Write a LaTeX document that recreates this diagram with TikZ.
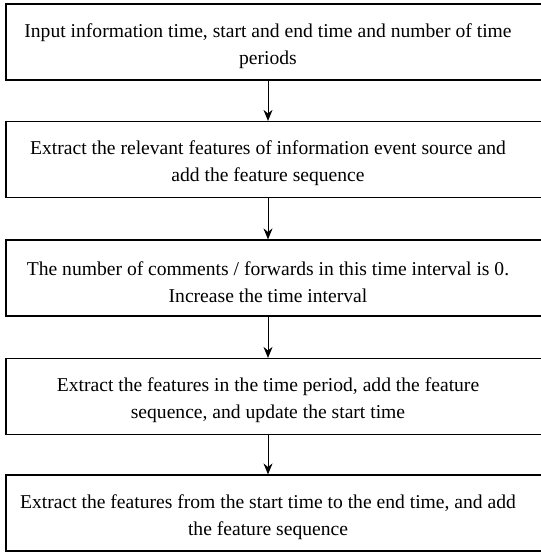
\documentclass[tikz,border=0pt]{standalone}
\usepackage{fontspec}
\setmainfont{Liberation Serif}
\usetikzlibrary{arrows.meta}

\tikzset{
  stepframe/.style={draw,line width=1.2pt,minimum width=539pt,minimum height=76pt,inner sep=0pt},
  steptext/.style={align=center,inner sep=0pt,font=\fontsize{19.6}{27}\selectfont},
  flow/.style={-{Stealth[length=11pt,width=9pt]},line width=1pt}
}

\begin{document}
\begin{tikzpicture}[x=1pt,y=-1pt]
\useasboundingbox (0,0) rectangle (541,552);
% frames
\node[stepframe] (b1) at (275.5,42) {};
\node[stepframe] (b2) at (275.5,159.5) {};
\node[stepframe] (b3) at (275.5,278) {};
\node[stepframe] (b4) at (275.5,396.5) {};
\node[stepframe] (b5) at (275.5,513) {};
% texts
\node[steptext] (t1) at (268,46) {Input information time, start and end time and number of time\\periods};
\node[steptext] (t2) at (268,163.5) {Extract the relevant features of information event source and\\add the feature sequence};
\node[steptext] (t3) at (268,282) {The number of comments / forwards in this time interval is 0.\\Increase the time interval};
\node[steptext] (t4) at (268,400.5) {Extract the features in the time period, add the feature\\sequence, and update the start time};
\node[steptext] (t5) at (268,517) {Extract the features from the start time to the end time, and add\\the feature sequence};
% arrows
\draw[flow] (b1.south -| t1) -- (b2.north -| t2);
\draw[flow] (b2.south -| t2) -- (b3.north -| t3);
\draw[flow] (b3.south -| t3) -- (b4.north -| t4);
\draw[flow] (b4.south -| t4) -- (b5.north -| t5);
\end{tikzpicture}
\end{document}
